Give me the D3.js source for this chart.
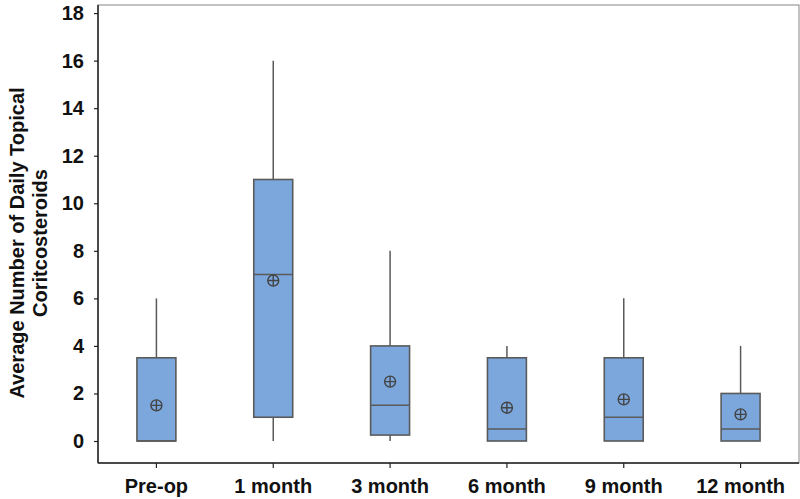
<!DOCTYPE html>
<html><head><meta charset="utf-8">
<script src="https://cdn.jsdelivr.net/npm/d3@7"></script>
<style>body{margin:0;background:#fff}svg{display:block}</style>
</head><body>
<svg id="c" width="800" height="499"></svg>
<script>
const categories = ["Pre-op","1 month","3 month","6 month","9 month","12 month"];
const mins    = [0, 0, 0, 0, 0, 0];
const q1s     = [0, 1, 0.25, 0, 0, 0];
const medians = [0, 7, 1.5, 0.5, 1, 0.5];
const q3s     = [3.5, 11, 4, 3.5, 3.5, 2];
const maxs    = [6, 16, 8, 4, 6, 4];
const means   = [1.5, 6.75, 2.5, 1.4, 1.75, 1.12];
const yTicks  = [0, 2, 4, 6, 8, 10, 12, 14, 16, 18];
const yLabelLines = ["Average Number of Daily Topical", "Coritcosteroids"];

const svg = d3.select("#c");
const L = 98, R = 799, T = 5, B = 463;
const x = d3.scaleBand().domain(categories).range([L, R]).padding(0);
const y = d3.scaleLinear().domain([-0.925, 18.34]).range([B, T]);
const font = "'Liberation Sans', Arial, sans-serif";

// frame
svg.append("rect").attr("x", L).attr("y", T).attr("width", R - L).attr("height", B - T)
  .attr("fill", "none").attr("stroke", "#9a9a9a").attr("stroke-width", 1.2);

const ya = svg.append("g").attr("transform", `translate(${L},0)`)
  .call(d3.axisLeft(y).tickValues(yTicks).tickSize(4).tickPadding(10).tickFormat(d3.format("d")));
ya.select(".domain").attr("d", `M0,${T}V${B}`).attr("stroke", "#222").attr("stroke-width", 1.5);
ya.selectAll(".tick line").attr("stroke", "#222").attr("stroke-width", 1.2);
ya.selectAll("text").attr("font-family", font).attr("font-size", 20).attr("font-weight", "bold").attr("fill", "#111");

const xa = svg.append("g").attr("transform", `translate(0,${B})`)
  .call(d3.axisBottom(x).tickSize(5).tickPadding(11));
xa.select(".domain").attr("d", `M${L},0H${R}`).attr("stroke", "#222").attr("stroke-width", 1.5);
xa.selectAll(".tick line").attr("stroke", "#222").attr("stroke-width", 1.2);
xa.selectAll("text").attr("font-family", font).attr("font-size", 20).attr("font-weight", "bold").attr("fill", "#111");

// y label
const yl = svg.append("text").attr("transform", "translate(0,243) rotate(-90)")
  .attr("text-anchor", "middle").attr("font-family", font).attr("font-size", 20)
  .attr("font-weight", "bold").attr("fill", "#111");
yLabelLines.forEach((t, i) => yl.append("tspan").attr("x", 0).attr("y", 24 + i * 23).text(t));

const bw = x.bandwidth() / 3;
const stroke = "#5a5a5a";
const g = svg.append("g");
categories.forEach((c, i) => {
  const cx = x(c) + x.bandwidth() / 2;
  g.append("line").attr("x1", cx).attr("x2", cx).attr("y1", y(q3s[i])).attr("y2", y(maxs[i]))
    .attr("stroke", stroke).attr("stroke-width", 1.5);
  g.append("line").attr("x1", cx).attr("x2", cx).attr("y1", y(q1s[i])).attr("y2", y(mins[i]))
    .attr("stroke", stroke).attr("stroke-width", 1.5);
  g.append("rect").attr("x", cx - bw / 2).attr("width", bw)
    .attr("y", y(q3s[i])).attr("height", y(q1s[i]) - y(q3s[i]))
    .attr("fill", "#7ba7dd").attr("stroke", stroke).attr("stroke-width", 1.6);
  g.append("line").attr("x1", cx - bw / 2).attr("x2", cx + bw / 2)
    .attr("y1", y(medians[i])).attr("y2", y(medians[i])).attr("stroke", stroke).attr("stroke-width", 1.5);
  const my = y(means[i]), r = 5.5;
  g.append("circle").attr("cx", cx).attr("cy", my).attr("r", r)
    .attr("fill", "none").attr("stroke", "#444").attr("stroke-width", 1.4);
  g.append("path").attr("d", `M${cx - r},${my}H${cx + r}M${cx},${my - r}V${my + r}`)
    .attr("stroke", "#444").attr("stroke-width", 1.4);
});
</script>
</body></html>
